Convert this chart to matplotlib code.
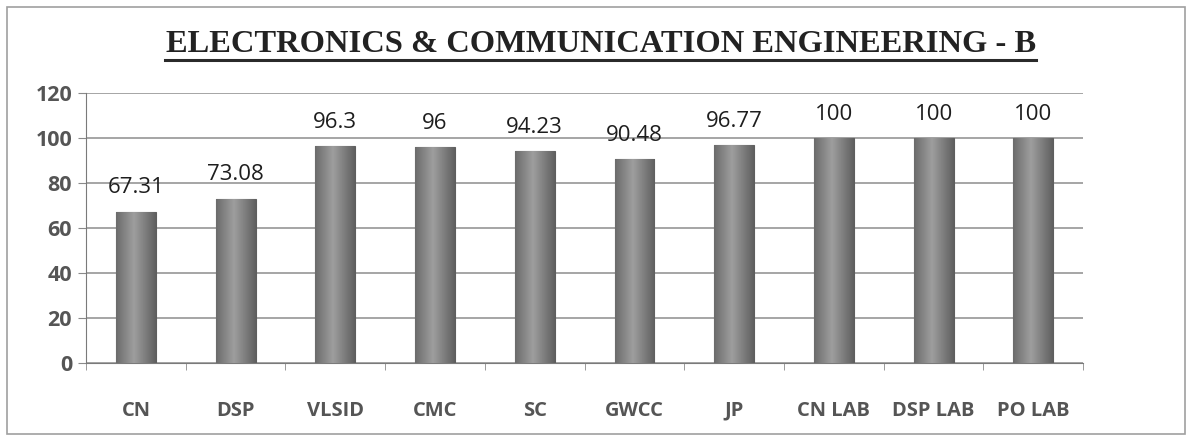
import numpy as np
import matplotlib.pyplot as plt
from matplotlib.patches import Rectangle

# chart data
subjects = ["CN", "DSP", "VLSID", "CMC", "SC", "GWCC", "JP", "CN LAB", "DSP LAB", "PO LAB"]
pass_pct = [67.31, 73.08, 96.3, 96, 94.23, 90.48, 96.77, 100, 100, 100]
value_labels = ["67.31", "73.08", "96.3", "96", "94.23", "90.48", "96.77", "100", "100", "100"]
yticks = [0, 20, 40, 60, 80, 100, 120]

fig = plt.figure(figsize=(11.87, 4.36), dpi=100)
fig.patch.set_facecolor("white")
# outer chart border
fig.patches.append(Rectangle((0.006, 0.005), 0.992, 0.979, transform=fig.transFigure,
                             fill=False, edgecolor="#a0a0a0", linewidth=1.2))

ax = fig.add_axes([0.0725, 0.167, 0.840, 0.62])
x = np.arange(len(subjects))
bw = 0.4
bars = ax.bar(x, pass_pct, width=bw, color="#808080", edgecolor="#5e5e5e", linewidth=0.8, zorder=3)

# excel style cylinder shading, done as a gradient clipped to each bar
g = np.linspace(0, 1, 64)
g = 0.62 - 0.22 * np.abs(g - 0.45) * 2
g = np.vstack([g, g])
for b in bars:
    im = ax.imshow(g, cmap="gray", vmin=0, vmax=1, aspect="auto",
                   extent=[b.get_x(), b.get_x() + b.get_width(), 0, b.get_height()], zorder=3)
    im.set_clip_path(b)

for xi, v, lab in zip(x, pass_pct, value_labels):
    ax.annotate(lab, (xi, v), xytext=(0, 17), textcoords="offset points", ha="center", va="center",
                fontsize=16, family="Open Sans", color="#1e1e1e")

ax.set_xlim(-0.5, len(subjects) - 0.5)
ax.set_ylim(0, 120)
ax.set_yticks(yticks)
ax.set_xticks(x)
ax.set_xticklabels(subjects)
ax.set_xticks(np.arange(-0.5, len(subjects), 1), minor=True)
ax.tick_params(axis="x", which="major", length=0, pad=27)
ax.tick_params(axis="x", which="minor", length=5, color="#8a8a8a")
ax.tick_params(axis="y", length=6, color="#8a8a8a", pad=4)
for t in ax.get_xticklabels():
    t.set_fontsize(14.5)
for t in ax.get_yticklabels():
    t.set_fontsize(15.5)
for t in ax.get_xticklabels() + ax.get_yticklabels():
    t.set_fontfamily("Open Sans")
    t.set_fontweight("bold")
    t.set_color("#555555")

ax.grid(axis="y", color="#969696", linewidth=1.2, zorder=0)
ax.set_axisbelow(True)
for s in ["top", "right"]:
    ax.spines[s].set_visible(False)
ax.spines["left"].set_color("#7a7a7a")
ax.spines["bottom"].set_color("#7a7a7a")

fig.text(0.506, 0.899, "ELECTRONICS & COMMUNICATION ENGINEERING - B", ha="center", va="center",
         fontsize=23.4, fontweight="bold", family="Liberation Serif", color="#222222")
# underline under the title
fig.add_artist(plt.Line2D([0.139, 0.873], [0.862, 0.862], transform=fig.transFigure,
                          color="#2a2a2a", linewidth=2.2))

fig.savefig("out.png", dpi=100)
